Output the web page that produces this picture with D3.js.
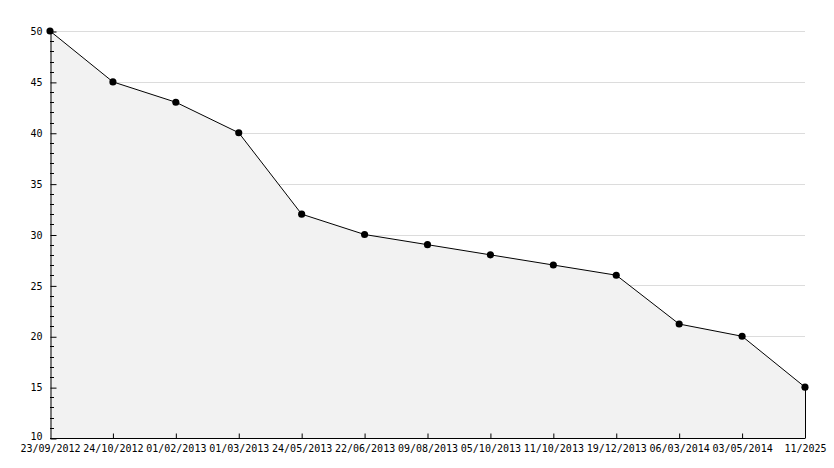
<!DOCTYPE html>
<html>
<head>
<meta charset="utf-8">
<script src="https://cdn.jsdelivr.net/npm/d3@7"></script>
<style>
html,body{margin:0;padding:0;background:#fff;}
svg{display:block;}
text{font-family:"DejaVu Sans Mono",monospace;font-size:10px;fill:#000;}
</style>
</head>
<body>
<svg id="chart" width="834" height="468"></svg>
<script>
const categories = ["23/09/2012","24/10/2012","01/02/2013","01/03/2013","24/05/2013","22/06/2013","09/08/2013","05/10/2013","11/10/2013","19/12/2013","06/03/2014","03/05/2014","11/2025"];
const values = [50,45,43,40,32,30,29,28,27,26,21.2,20,15];
const yTicks = [10,15,20,25,30,35,40,45,50];

(function () {
const svg = d3.select("#chart");
const pLeft = 50, pRight = 805, pTop = 31, pBottom = 438;

const x = d3.scalePoint().domain(categories).range([pLeft, pRight]);
const y = d3.scaleLinear().domain([10, 50]).range([pBottom, pTop]);

// grid
svg.append("g").selectAll("line").data(yTicks).join("line")
  .attr("x1", pLeft).attr("x2", pRight)
  .attr("y1", d => Math.round(y(d)) + 0.5).attr("y2", d => Math.round(y(d)) + 0.5)
  .attr("stroke", "#dcdcdc").attr("stroke-width", 1);

// area
const area = d3.area()
  .x((d, i) => x(categories[i]))
  .y0(y(10)).y1(d => y(d));
svg.append("path").datum(values).attr("d", area).attr("fill", "#f2f2f2");

// line
const line = d3.line().x((d, i) => x(categories[i])).y(d => y(d));
svg.append("path").datum(values).attr("d", line)
  .attr("fill", "none").attr("stroke", "#000").attr("stroke-width", 1);

// right edge vertical
const last = categories.length - 1;
svg.append("line")
  .attr("x1", x(categories[last]) + 0.5).attr("x2", x(categories[last]) + 0.5)
  .attr("y1", y(values[last])).attr("y2", y(10))
  .attr("stroke", "#000");

// y axis (ticks pointing inward)
const yAxis = d3.axisLeft(y).tickValues(yTicks).tickSizeInner(-6).tickSizeOuter(0).tickPadding(8);
const gy = svg.append("g").attr("transform", `translate(${pLeft + 0.5},0.5)`).call(yAxis);
gy.select(".domain").attr("stroke", "#000");
gy.selectAll("text").style("font-family", "DejaVu Sans Mono").style("font-size", "10px");
gy.selectAll(".tick").filter(d => d === 10).select("text").attr("y", -2);
// minor ticks
const minor = d3.range(10, 51, 1).filter(v => v % 5 !== 0);
svg.append("g").selectAll("line").data(minor).join("line")
  .attr("x1", pLeft).attr("x2", pLeft + 4)
  .attr("y1", d => Math.round(y(d)) + 0.5).attr("y2", d => Math.round(y(d)) + 0.5)
  .attr("stroke", "#000");

// x axis
const xAxis = d3.axisBottom(x).tickSize(-5).tickPadding(6);
const gx = svg.append("g").attr("transform", `translate(0,${pBottom + 0.5})`).call(xAxis);
gx.select(".domain").attr("stroke", "#000").attr("d", `M${pLeft},0H${pRight}`);
gx.selectAll("text").style("font-family", "DejaVu Sans Mono").style("font-size", "10px");
gx.selectAll(".tick").filter((d, i) => i === 0).select("line").remove();

// markers
svg.append("g").selectAll("path").data(values).join("path")
  .attr("transform", (d, i) => `translate(${x(categories[i])},${y(d)})`)
  .attr("d", d3.symbol().type(d3.symbolCircle).size(40))
  .attr("fill", "#000");
})();
</script>
</body>
</html>
